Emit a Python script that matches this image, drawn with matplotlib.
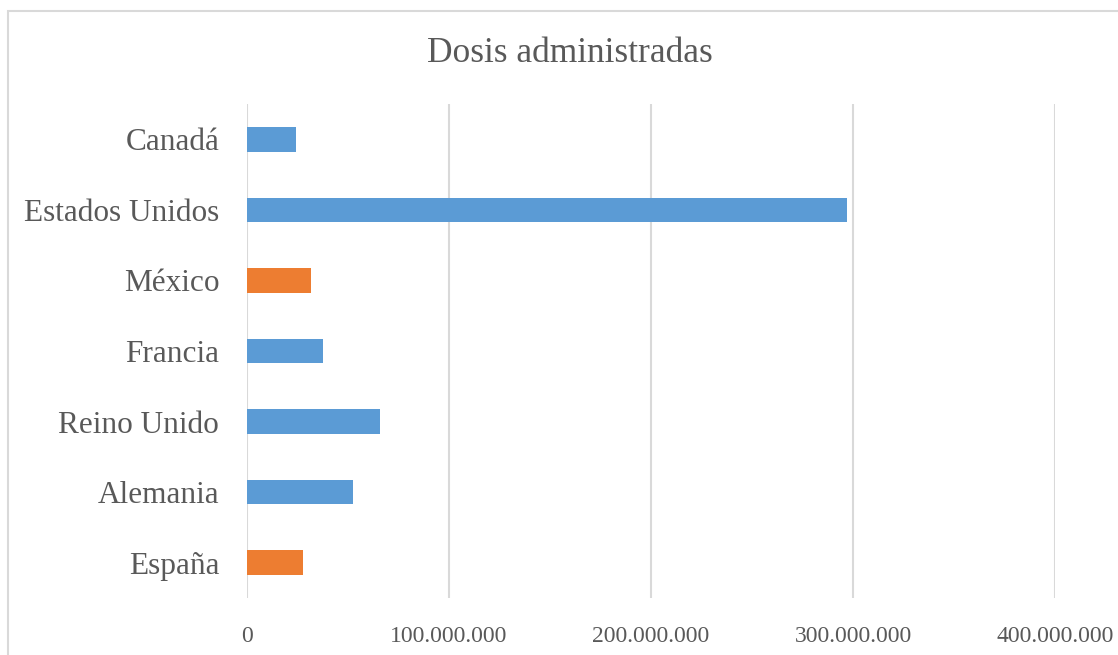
import numpy as np
import matplotlib.pyplot as plt
from matplotlib.patches import Rectangle
from matplotlib.ticker import FuncFormatter

paises = ["Canadá", "Estados Unidos", "México", "Francia", "Reino Unido", "Alemania", "España"]
dosis = [24300000, 297200000, 31700000, 37600000, 65800000, 52500000, 27700000]
colores = ["#5B9BD5", "#5B9BD5", "#ED7D31", "#5B9BD5", "#5B9BD5", "#5B9BD5", "#ED7D31"]
ticks_x = [0, 100000000, 200000000, 300000000, 400000000]

plt.rcParams['font.family'] = ['Liberation Serif', 'DejaVu Serif']
gris = "#595959"

fig = plt.figure(figsize=(11.18, 6.55), dpi=100)
ax = fig.add_axes([247/1118, 1 - 598/655, (1055 - 247)/1118, (598 - 104)/655])

y = np.arange(len(paises))
ax.barh(y, dosis, height=0.35, color=colores, zorder=3)
ax.set_ylim(len(paises) - 0.5, -0.5)
ax.set_xlim(0, 400000000)

ax.set_yticks(y)
ax.set_yticklabels(paises, fontsize=22.5, color=gris)
ax.set_xticks(ticks_x)
ax.xaxis.set_major_formatter(FuncFormatter(lambda v, p: f"{int(v):,}".replace(",", ".")))
ax.tick_params(axis='x', labelsize=17, labelcolor=gris, length=0, pad=20)
ax.tick_params(axis='y', length=0, pad=20)

ax.grid(axis='x', color="#d9d9d9", linewidth=1.5, zorder=0)
for s in ax.spines.values():
    s.set_visible(False)

fig.text(570/1118, 1 - 53/655, "Dosis administradas", ha='center', va='center',
         fontsize=25.5, color=gris)

# marco del grafico
fig.patches.append(Rectangle((8/1118, -0.1), 1.2, 1 - 11/655 + 0.1, transform=fig.transFigure,
                             fill=False, edgecolor="#d9d9d9", linewidth=1.5))

fig.savefig("out.png", dpi=100)
